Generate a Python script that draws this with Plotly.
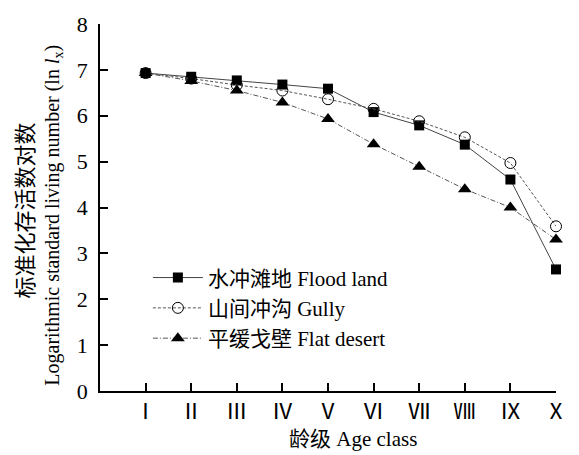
import plotly.graph_objects as go

# Age classes and log standardized survivorship (ln lx) per habitat
age_classes = ["Ⅰ", "Ⅱ", "Ⅲ", "Ⅳ", "Ⅴ", "Ⅵ", "Ⅶ", "Ⅷ", "Ⅸ", "Ⅹ"]
age_index = [1, 2, 3, 4, 5, 6, 7, 8, 9, 10]
flood_land = [6.93, 6.85, 6.77, 6.68, 6.59, 6.08, 5.79, 5.37, 4.61, 2.65]
gully = [6.93, 6.81, 6.67, 6.55, 6.36, 6.15, 5.88, 5.53, 4.97, 3.59]
flat_desert = [6.93, 6.76, 6.55, 6.29, 5.93, 5.38, 4.89, 4.40, 4.00, 3.30]

series_names = ["水冲滩地 Flood land", "山间冲沟 Gully", "平缓戈壁 Flat desert"]

FONT = "'Liberation Serif', 'Times New Roman', 'Noto Sans CJK SC', serif"

fig = go.Figure()
fig.add_trace(go.Scatter(
    x=age_index, y=flood_land, name=series_names[0], mode="lines+markers",
    line=dict(color="#444444", width=1, dash="solid"),
    marker=dict(symbol="square", size=10, color="black"),
    cliponaxis=False,
))
fig.add_trace(go.Scatter(
    x=age_index, y=gully, name=series_names[1], mode="lines+markers",
    line=dict(color="#555555", width=1, dash="3px,2px"),
    marker=dict(symbol="circle-open", size=11, color="black", line=dict(width=1)),
    cliponaxis=False,
))
fig.add_trace(go.Scatter(
    x=age_index, y=flat_desert, name=series_names[2], mode="lines+markers",
    line=dict(color="#555555", width=1, dash="5px,2px,1px,2px"),
    marker=dict(symbol="triangle-up", size=12, color="black"),
    cliponaxis=False,
))

fig.update_layout(
    width=579, height=455,
    margin=dict(l=100, r=14, t=14, b=64),
    paper_bgcolor="white", plot_bgcolor="white",
    font=dict(family=FONT, size=21, color="black"),
    showlegend=True,
    legend=dict(
        x=0.105, y=0.364, xanchor="left", yanchor="top",
        bgcolor="rgba(0,0,0,0)", itemwidth=50,
        font=dict(family=FONT, size=21), tracegroupgap=0,
    ),
    xaxis=dict(
        range=[0, 10], tickvals=age_index, ticktext=age_classes,
        showline=True, linecolor="black", linewidth=1.5,
        ticks="inside", ticklen=8, tickwidth=1.5, tickcolor="black",
        showgrid=False, zeroline=False, mirror=False,
        tickfont=dict(family=FONT, size=22),
    ),
    yaxis=dict(
        range=[0, 8], tickvals=[0, 1, 2, 3, 4, 5, 6, 7, 8],
        showline=True, linecolor="black", linewidth=1.5,
        ticks="inside", ticklen=8, tickwidth=1.5, tickcolor="black",
        showgrid=False, zeroline=False, mirror=False,
        tickfont=dict(family=FONT, size=22), ticklabelstandoff=6,
    ),
    annotations=[
        dict(text="龄级 Age class", xref="paper", yref="paper",
             x=(358 - 100) / 465, y=-(440 - 391) / 377, xanchor="center", yanchor="middle",
             showarrow=False, font=dict(family=FONT, size=21)),
        dict(text="标准化存活数对数", xref="paper", yref="paper",
             x=-(100 - 24) / 465, y=(391 - 205) / 377, xanchor="center", yanchor="middle",
             textangle=-90, showarrow=False, font=dict(family=FONT, size=22)),
        dict(text="Logarithmic standard living number (ln <i>l</i><sub>x</sub>)",
             xref="paper", yref="paper",
             x=-(100 - 53) / 465, y=(391 - 210) / 377, xanchor="center", yanchor="middle",
             textangle=-90, showarrow=False, font=dict(family=FONT, size=20)),
    ],
)

fig.write_html("out.html")
